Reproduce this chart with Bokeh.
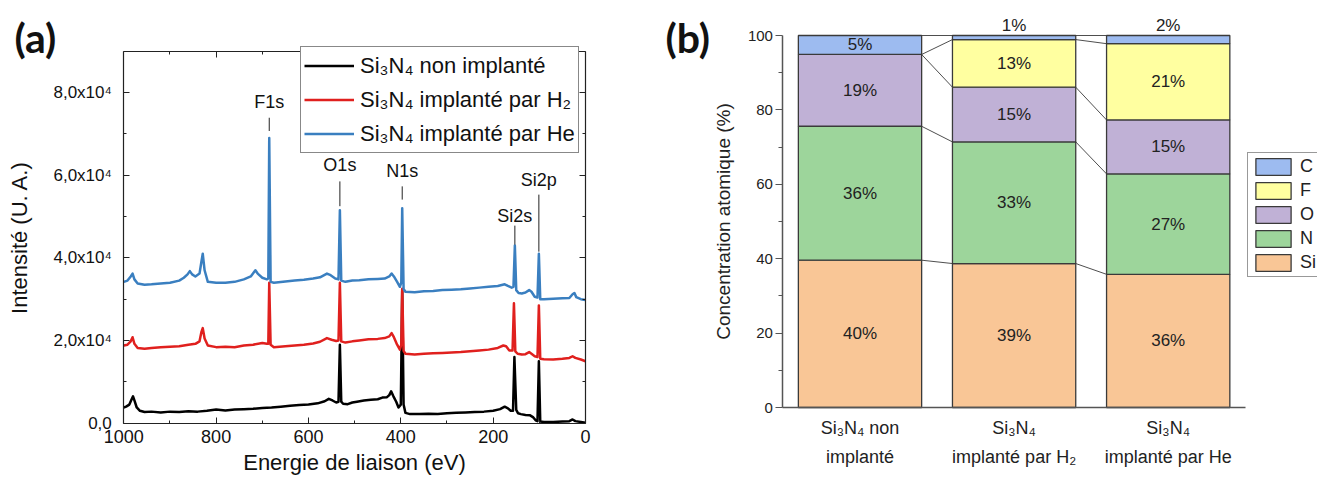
import numpy as np
from bokeh.plotting import figure
from bokeh.layouts import row
from bokeh.models import (Range1d, FixedTicker, LinearAxis, Legend, LegendItem,
                          Label, ColumnDataSource)
from bokeh.core.properties import value
from bokeh.embed import file_html
from bokeh.resources import INLINE

FONT = "Liberation Sans"

# ---------------- Panel (a): XPS survey spectra (intensity in units of 1e4) -------------
energy_black = [1000, 995, 988, 983, 980, 977, 972, 965, 955, 940, 920, 900, 880, 860, 840,
                820, 800, 780, 760, 740, 720, 700, 680, 660, 640, 620, 600, 580, 565, 556,
                548, 540, 535, 532, 529, 525, 515, 505, 495, 480, 465, 450, 440, 430, 425,
                421, 416, 410, 405, 400, 397, 394, 390, 380, 360, 340, 320, 300, 280, 260,
                240, 220, 200, 185, 175, 168, 162, 157, 154, 150, 146, 140, 130, 120, 113,
                108, 104, 101, 98, 90, 70, 50, 35, 28, 22, 10, 0]
intensity_black = [0.38, 0.40, 0.45, 0.58, 0.65, 0.55, 0.38, 0.30, 0.27, 0.28, 0.26, 0.28, 0.27,
                   0.29, 0.28, 0.30, 0.33, 0.31, 0.33, 0.34, 0.35, 0.37, 0.38, 0.40, 0.42, 0.44,
                   0.45, 0.48, 0.53, 0.59, 0.55, 0.50, 0.52, 1.90, 0.52, 0.47, 0.46, 0.50, 0.52,
                   0.55, 0.57, 0.58, 0.62, 0.63, 0.68, 0.77, 0.65, 0.52, 0.38, 0.45, 3.20, 0.45,
                   0.25, 0.22, 0.22, 0.23, 0.22, 0.24, 0.25, 0.26, 0.27, 0.28, 0.30, 0.34, 0.40,
                   0.36, 0.30, 0.30, 1.60, 0.32, 0.24, 0.22, 0.20, 0.19, 0.14, 0.07, 0.05, 1.50,
                   0.04, 0.03, 0.03, 0.04, 0.05, 0.09, 0.05, 0.03, 0.01]

energy_red = [1000, 992, 985, 981, 977, 970, 955, 940, 920, 900, 880, 860, 845, 836, 832, 829,
              825, 818, 800, 780, 760, 740, 720, 700, 690, 687, 685, 682, 675, 650, 630, 610,
              590, 575, 560, 550, 540, 535, 532, 529, 520, 505, 490, 470, 450, 435, 425, 420,
              415, 408, 402, 399, 397, 394, 390, 370, 350, 330, 310, 290, 270, 250, 230, 210,
              190, 178, 172, 165, 158, 155, 152, 147, 138, 130, 122, 117, 110, 104, 101, 98,
              90, 70, 50, 35, 28, 22, 10, 0]
intensity_red = [1.88, 1.90, 1.98, 2.08, 1.92, 1.82, 1.80, 1.82, 1.84, 1.85, 1.86, 1.90, 1.92,
                 1.98, 2.20, 2.30, 2.05, 1.88, 1.84, 1.85, 1.84, 1.88, 1.90, 1.94, 1.92, 1.92,
                 3.40, 1.90, 1.84, 1.86, 1.88, 1.90, 1.93, 1.97, 2.06, 2.02, 1.99, 2.00, 3.40,
                 1.98, 1.95, 1.98, 2.00, 2.03, 2.04, 2.06, 2.10, 2.18, 2.08, 1.90, 1.78, 1.90,
                 3.25, 1.75, 1.68, 1.66, 1.68, 1.69, 1.70, 1.71, 1.72, 1.74, 1.76, 1.78, 1.82,
                 1.88, 1.86, 1.76, 1.76, 2.90, 1.74, 1.68, 1.66, 1.67, 1.72, 1.68, 1.62, 1.60,
                 2.85, 1.56, 1.55, 1.54, 1.56, 1.58, 1.62, 1.58, 1.54, 1.50]

energy_blue = [1000, 992, 985, 981, 977, 970, 955, 940, 920, 900, 880, 870, 862, 857, 852, 845,
               836, 832, 829, 825, 818, 800, 780, 760, 740, 725, 715, 710, 700, 690, 687, 685,
               682, 675, 650, 630, 610, 590, 575, 560, 552, 542, 535, 532, 529, 520, 505, 490,
               470, 450, 435, 425, 420, 415, 408, 402, 399, 397, 394, 390, 370, 350, 330, 310,
               290, 270, 250, 230, 210, 190, 175, 168, 160, 156, 153, 150, 145, 138, 130, 122,
               117, 110, 104, 101, 98, 90, 70, 50, 35, 28, 24, 20, 10, 0]
intensity_blue = [3.42, 3.45, 3.55, 3.62, 3.48, 3.38, 3.35, 3.36, 3.38, 3.40, 3.45, 3.52, 3.60,
                  3.68, 3.60, 3.55, 3.62, 3.90, 4.10, 3.70, 3.42, 3.40, 3.40, 3.42, 3.48, 3.55,
                  3.70, 3.62, 3.52, 3.48, 3.50, 6.90, 3.42, 3.40, 3.43, 3.45, 3.47, 3.50, 3.53,
                  3.62, 3.58, 3.50, 3.48, 5.15, 3.45, 3.42, 3.45, 3.46, 3.48, 3.49, 3.50, 3.55,
                  3.62, 3.55, 3.42, 3.30, 3.40, 5.20, 3.25, 3.18, 3.17, 3.19, 3.20, 3.22, 3.23,
                  3.24, 3.26, 3.28, 3.30, 3.32, 3.36, 3.32, 3.28, 3.30, 4.30, 3.22, 3.15, 3.14,
                  3.16, 3.22, 3.18, 3.06, 3.04, 4.10, 3.00, 3.00, 3.01, 3.02, 3.03, 3.12, 3.15,
                  3.05, 3.00, 2.98]

series_labels = ["Si\u2083N\u2084 non implant\u00e9",
                 "Si\u2083N\u2084 implant\u00e9 par H\u2082",
                 "Si\u2083N\u2084 implant\u00e9 par He"]
series_colors = ["#000000", "#E0201E", "#3A7FC0"]

peak_names = ["F1s", "O1s", "N1s", "Si2s", "Si2p"]
peak_energy = [685, 532, 397, 153, 101]
peak_text_y = [7.76, 6.24, 6.11, 5.02, 5.89]
peak_line_top = [7.39, 5.85, 5.73, 4.78, 5.53]
peak_line_bottom = [7.07, 5.25, 5.41, 4.32, 4.15]

y_ticks_a = [0, 2, 4, 6, 8]
y_minor_a = [1, 3, 5, 7]
y_tick_labels_a = ["0,0", "2,0x10\u2074", "4,0x10\u2074", "6,0x10\u2074", "8,0x10\u2074"]
x_ticks_a = [0, 200, 400, 600, 800, 1000]
x_minor_a = [100, 300, 500, 700, 900]
x_lim_a = (0, 1000)
y_lim_a = (0, 9)

# ---------------- Panel (b): atomic concentration ----------------
samples = [1, 2, 3]
sample_labels = ["Si\u2083N\u2084 non\nimplant\u00e9",
                 "Si\u2083N\u2084\nimplant\u00e9 par H\u2082",
                 "Si\u2083N\u2084\nimplant\u00e9 par He"]
elements = ["Si", "N", "O", "F", "C"]
Si = [39.6, 38.7, 35.8]
N = [36.0, 32.7, 27.0]
O = [19.3, 14.7, 14.5]
F = [0.0, 12.8, 20.5]
C = [5.1, 1.1, 2.2]
element_colors = ["#F9C696", "#9DD59B", "#C0B1D6", "#FFFFA0", "#9DBBF0"]
y_ticks_b = [0, 20, 40, 60, 80, 100]
y_minor_b = [10, 30, 50, 70, 90]


# ---------------- layout helpers (pixel anchors -> ranges) ----------------
def span(v0, p0, v1, p1, size):
    """values shown at pixel 0 and pixel `size` given two (value, pixel) anchors"""
    s = (p1 - p0) / (v1 - v0)
    return v0 + (0 - p0) / s, v0 + (size - p0) / s


WA, WB, H = 648, 669, 482
E4 = 1e4

# ======================= Figure (a) =======================
xa0, xa1 = span(1000, 123.3, 0, 585.0, WA)
ya_top, ya_bot = span(0, 422.7, 9, 50.7, H)
pa = figure(width=WA, height=H,
            x_range=Range1d(xa0, xa1), y_range=Range1d(ya_bot * E4, ya_top * E4),
            output_backend="svg", toolbar_location=None,
            min_border_left=0, min_border_right=0, min_border_top=0, min_border_bottom=0)
pa.grid.visible = False
pa.outline_line_color = None
pa.background_fill_color = "white"
pa.border_fill_color = "white"

xt = FixedTicker(ticks=x_ticks_a, minor_ticks=x_minor_a)
yt = FixedTicker(ticks=[v * E4 for v in y_ticks_a], minor_ticks=[v * E4 for v in y_minor_a])

bottom_ax = pa.below[0]
left_ax = pa.left[0]

bottom_ax.ticker = xt
left_ax.ticker = yt
bottom_ax.fixed_location = y_lim_a[0] * E4
bottom_ax.bounds = x_lim_a
left_ax.fixed_location = x_lim_a[1]
left_ax.bounds = (y_lim_a[0] * E4, y_lim_a[1] * E4)
left_ax.major_label_overrides = {v * E4: s for v, s in zip(y_ticks_a, y_tick_labels_a)}

top_ax = LinearAxis(ticker=xt, fixed_location=y_lim_a[1] * E4, bounds=x_lim_a,
                    major_label_text_color=None)
pa.add_layout(top_ax, "above")
right_ax = LinearAxis(ticker=yt, fixed_location=x_lim_a[0],
                      bounds=(y_lim_a[0] * E4, y_lim_a[1] * E4),
                      major_label_text_color=None)
pa.add_layout(right_ax, "right")

for ax in (bottom_ax, left_ax, top_ax, right_ax):
    ax.major_tick_in = 6
    ax.major_tick_out = 0
    ax.minor_tick_in = 3
    ax.minor_tick_out = 0
    ax.axis_line_color = "#222222"
    ax.axis_line_width = 1.2
    ax.major_tick_line_color = "#222222"
    ax.minor_tick_line_color = "#222222"

for ax in (bottom_ax, left_ax):
    ax.major_label_text_font = FONT
    ax.major_label_text_color = "#111111"
    ax.axis_label_text_font = FONT
    ax.axis_label_text_font_style = "normal"
    ax.axis_label_text_color = "#111111"

bottom_ax.major_label_text_font_size = "18px"
bottom_ax.major_label_standoff = 7
bottom_ax.axis_label = "Energie de liaison (eV)"
bottom_ax.axis_label_text_font_size = "22px"
bottom_ax.axis_label_standoff = 3

left_ax.major_label_text_font_size = "17px"
left_ax.major_label_standoff = 12
left_ax.axis_label = "Intensit\u00e9 (U. A.)"
left_ax.axis_label_text_font_size = "22px"
left_ax.axis_label_standoff = 18

renderers = []
for en, inten, col in zip([energy_black, energy_red, energy_blue],
                          [intensity_black, intensity_red, intensity_blue], series_colors):
    r = pa.line(x=en, y=np.array(inten) * E4, line_color=col, line_width=2.5,
                line_join="round")
    renderers.append(r)

pa.segment(x0=peak_energy, y0=np.array(peak_line_bottom) * E4,
           x1=peak_energy, y1=np.array(peak_line_top) * E4,
           line_color="#222222", line_width=1)
pa.text(x=peak_energy, y=np.array(peak_text_y) * E4, text=peak_names,
        text_align="center", text_baseline="middle", text_font=value(FONT),
        text_font_size="18px", text_color="#111111")

leg_a = Legend(items=[LegendItem(label=lab, renderers=[r])
                      for lab, r in zip(series_labels, renderers)],
               location=(300, H - 153), margin=0, padding=3, spacing=3,
               glyph_width=50, glyph_height=31, label_height=31, label_standoff=6,
               label_text_font=FONT, label_text_font_size="22px",
               label_text_color="#111111",
               border_line_color="#111111", border_line_width=1.2,
               background_fill_color="white", background_fill_alpha=1.0)
pa.add_layout(leg_a)

pa.add_layout(Label(x=14, y=H - 37, x_units="screen", y_units="screen", text="(a)",
                    text_font="Lato", text_font_size="41px", text_font_style="bold",
                    text_baseline="middle", text_color="#111111"))

# ======================= Figure (b) =======================
xb0, xb1 = span(1, 211.5, 3, 519.7, WB)
yb_top, yb_bot = span(0, 407.0, 100, 35.0, H)
pb = figure(width=WB, height=H, x_range=Range1d(xb0, xb1), y_range=Range1d(yb_bot, yb_top),
            output_backend="svg", toolbar_location=None,
            min_border_left=0, min_border_right=0, min_border_top=0, min_border_bottom=0)
pb.grid.visible = False
pb.outline_line_color = None
pb.background_fill_color = "white"
pb.border_fill_color = "white"

src = ColumnDataSource(dict(x=samples, Si=Si, N=N, O=O, F=F, C=C))
bars = pb.vbar_stack(elements, x="x", width=0.8, source=src, color=element_colors,
                     line_color="#3a3a3a", line_width=1.3)

# connector lines between adjacent bars at every cumulative boundary
stack = np.array([Si, N, O, F, C])
cum = np.cumsum(stack, axis=0)
x0s, y0s, x1s, y1s = [], [], [], []
for i in range(len(samples) - 1):
    for k in range(len(elements)):
        x0s.append(samples[i] + 0.4)
        y0s.append(cum[k, i])
        x1s.append(samples[i + 1] - 0.4)
        y1s.append(cum[k, i + 1])
pb.segment(x0=x0s, y0=y0s, x1=x1s, y1=y1s, line_color="#3a3a3a", line_width=0.9)

# percentage labels
lx, ly, lt = [], [], []
for k in range(len(elements)):
    for i in range(len(samples)):
        v = stack[k, i]
        if v <= 0:
            continue
        lx.append(samples[i])
        if v < 3:
            ly.append(102.6)
        else:
            ly.append(cum[k, i] - v / 2)
        lt.append("%d%%" % int(v + 0.5))
pb.text(x=lx, y=ly, text=lt, text_align="center", text_baseline="middle",
        text_font=value(FONT), text_font_size="17px", text_color="#222222")

bx = pb.below[0]
by = pb.left[0]
bx.ticker = FixedTicker(ticks=samples, minor_ticks=[])
bx.major_label_overrides = {s: lab for s, lab in zip(samples, sample_labels)}
bx.fixed_location = 0
bx.bounds = (samples[0] - 0.5, samples[-1] + 0.5)
bx.major_tick_in = 0
bx.major_tick_out = 0
bx.minor_tick_in = 0
bx.minor_tick_out = 0
bx.major_label_standoff = 10
bx.major_label_text_font = FONT
bx.major_label_text_font_size = "18px"
bx.major_label_text_line_height = 1.45
bx.major_label_text_color = "#222222"

by.ticker = FixedTicker(ticks=y_ticks_b, minor_ticks=y_minor_b)
by.fixed_location = samples[0] - 0.5
by.bounds = (0, 100)
by.major_tick_in = 0
by.major_tick_out = 7
by.minor_tick_in = 0
by.minor_tick_out = 4
by.major_label_standoff = 3
by.major_label_text_font = FONT
by.major_label_text_font_size = "15px"
by.major_label_text_color = "#222222"
by.axis_label = "Concentration atomique (%)"
by.axis_label_text_font = FONT
by.axis_label_text_font_size = "19px"
by.axis_label_text_font_style = "normal"
by.axis_label_text_color = "#222222"
by.axis_label_standoff = 10

for ax in (bx, by):
    ax.axis_line_color = "#555555"
    ax.axis_line_width = 1.5
    ax.major_tick_line_color = "#555555"
    ax.minor_tick_line_color = "#555555"

leg_b = Legend(items=[LegendItem(label=elements[k], renderers=[bars[k]])
                      for k in range(len(elements) - 1, -1, -1)],
               location=(1247 - WA, H - 277), margin=0, padding=3, spacing=3,
               glyph_width=44, glyph_height=21, label_height=21, label_standoff=5,
               label_text_font=FONT, label_text_font_size="18px",
               label_text_color="#222222",
               border_line_color="#333333", border_line_width=1.2,
               background_fill_color="white", background_fill_alpha=1.0)
pb.add_layout(leg_b)

pb.add_layout(Label(x=665 - WA, y=H - 37, x_units="screen", y_units="screen", text="(b)",
                    text_font="Lato", text_font_size="41px", text_font_style="bold",
                    text_baseline="middle", text_color="#111111"))

layout = row(pa, pb, spacing=0)
open("out.html", "w").write(file_html(layout, INLINE))
